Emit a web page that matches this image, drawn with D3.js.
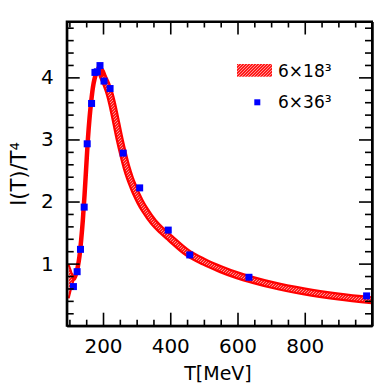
<!DOCTYPE html>
<html>
<head>
<meta charset="utf-8">
<script src="https://cdn.jsdelivr.net/npm/d3@7"></script>
<style>
  html, body { margin: 0; padding: 0; background: #fff; }
  svg { display: block; }
  text { font-family: "DejaVu Sans", sans-serif; fill: #000; }
</style>
</head>
<body>
<svg id="chart" width="392" height="392"></svg>
<script>
// ---- data ----
// 6x18^3 band: start segment (two crossing edges), then band centre line
const edgeT  = [98, 106, 114];
const edgeHi = [0.98, 0.86, 0.76];
const edgeLo = [0.44, 0.62, 0.76];

const bandT   = [114, 120, 125, 130, 135, 140, 145, 150, 155, 160, 165, 170, 175, 180, 185, 190,
                 195, 200, 210, 220, 230, 240, 250, 260, 270, 280, 290, 300, 310, 325, 350, 375,
                 400, 450, 500, 550, 600, 650, 700, 800, 900, 1000];
const bandMid = [0.76, 0.84, 0.95, 1.12, 1.38, 1.70, 2.10, 2.55, 3.00, 3.35, 3.62, 3.84, 3.98, 4.07, 4.11, 4.12,
                 4.08, 4.01, 3.89, 3.73, 3.51, 3.25, 2.99, 2.76, 2.55, 2.38, 2.24, 2.11, 2.00, 1.86, 1.67, 1.53,
                 1.41, 1.18, 1.03, 0.91, 0.81, 0.73, 0.66, 0.55, 0.47, 0.41];
const peakT = 190;

// 6x36^3 points
const ptsT = [112, 123, 133, 144, 153, 166, 176, 183, 191, 203, 221, 260, 309, 394, 458, 634, 984];
const ptsV = [0.63, 0.87, 1.23, 1.91, 2.93, 3.58, 4.08, 4.09, 4.19, 3.94, 3.82, 2.78, 2.22, 1.54, 1.14, 0.78, 0.48];

const xMajor = [200, 400, 600, 800];
const xMinor = [100, 150, 250, 300, 350, 450, 500, 550, 650, 700, 750, 850, 900, 950];
const yMajor = [1, 2, 3, 4];
const yMinor = [0.2, 0.4, 0.6, 0.8, 1.2, 1.4, 1.6, 1.8, 2.2, 2.4, 2.6, 2.8, 3.2, 3.4, 3.6, 3.8, 4.2, 4.4, 4.6, 4.8];

const legendLabels = ["6×18³", "6×36³"];
const xTitle = "T[MeV]";
const yTitle = "I(T)/T⁴";

// ---- layout ----
const W = 392, H = 392;
const m = { left: 66.7, right: 20, top: 21.5, bottom: 66.3 };
const svg = d3.select("#chart");

const x = d3.scaleLinear().domain([92, 1000]).range([m.left, W - m.right]);
const y = d3.scaleLinear().domain([0, 4.9]).range([H - m.bottom, m.top]);

// hatch pattern
const defs = svg.append("defs");
const pat = defs.append("pattern")
  .attr("id", "hatch").attr("patternUnits", "userSpaceOnUse")
  .attr("width", 3).attr("height", 3);
pat.append("rect").attr("width", 3).attr("height", 3).attr("fill", "#ff1a1a");
pat.append("path").attr("d", "M-1,1 L1,-1 M0,3 L3,0 M2,4 L4,2")
  .attr("stroke", "#ffc8c8").attr("stroke-width", 0.7);

const plot = svg.append("g");

// clip
defs.append("clipPath").attr("id", "clip").append("rect")
  .attr("x", m.left).attr("y", m.top)
  .attr("width", W - m.left - m.right).attr("height", H - m.top - m.bottom);
const pg = plot.append("g").attr("clip-path", "url(#clip)");

// start segment (crossing edges with hatch between)
const edgeData = edgeT.map((t, i) => ({ t, hi: edgeHi[i], lo: edgeLo[i] }));
pg.append("path").datum(edgeData)
  .attr("d", d3.area().x(d => x(d.t)).y0(d => y(d.lo)).y1(d => y(d.hi)))
  .attr("fill", "url(#hatch)");
["hi", "lo"].forEach(k => {
  pg.append("path").datum(edgeData)
    .attr("d", d3.line().x(d => x(d.t)).y(d => y(d[k])))
    .attr("fill", "none").attr("stroke", "#ff0000").attr("stroke-width", 2);
});

const band = bandT.map((t, i) => ({ t, v: bandMid[i] }));
const line = d3.line().x(d => x(d.t)).y(d => y(d.v)).curve(d3.curveMonotoneX);
const rising = band.filter(d => d.t <= peakT);
const falling = band.filter(d => d.t >= peakT - 5);

pg.append("path").datum(rising).attr("d", line)
  .attr("fill", "none").attr("stroke", "#ff0000").attr("stroke-width", 4.5)
  .attr("stroke-linejoin", "round").attr("stroke-linecap", "round");
pg.append("path").datum(falling).attr("d", line)
  .attr("fill", "none").attr("stroke", "#ff0000").attr("stroke-width", 8)
  .attr("stroke-linejoin", "round").attr("stroke-linecap", "butt");
pg.append("path").datum(falling.filter(d => d.t >= 200)).attr("d", line)
  .attr("fill", "none").attr("stroke", "url(#hatch)").attr("stroke-width", 3.6);

// points
const sq = 7;
pg.selectAll("rect.pt").data(ptsT.map((t, i) => ({ t, v: ptsV[i] })))
  .enter().append("rect").attr("class", "pt")
  .attr("x", d => x(d.t) - sq / 2).attr("y", d => y(d.v) - sq / 2)
  .attr("width", sq).attr("height", sq).attr("fill", "#0000ff");

// axes
function styleAxis(g) {
  g.select(".domain").attr("stroke", "#000").attr("stroke-width", 2);
  g.selectAll(".tick line").attr("stroke", "#000").attr("stroke-width", 1.6);
  g.selectAll("text").attr("font-size", 20).attr("font-family", "DejaVu Sans, sans-serif");
}
const majL = 13, minL = 6;
const bottomY = H - m.bottom, topY = m.top, leftX = m.left, rightX = W - m.right;

svg.append("g").attr("transform", `translate(0,${bottomY})`)
  .call(d3.axisBottom(x).tickValues(xMinor).tickSize(-minL).tickSizeOuter(0).tickFormat(""))
  .call(styleAxis);
svg.append("g").attr("transform", `translate(0,${bottomY})`)
  .call(d3.axisBottom(x).tickValues(xMajor).tickSize(-majL).tickSizeOuter(0).tickPadding(13).tickFormat(d3.format("d")))
  .call(styleAxis);
svg.append("g").attr("transform", `translate(0,${topY})`)
  .call(d3.axisTop(x).tickValues(xMinor).tickSize(-minL).tickSizeOuter(0).tickFormat(""))
  .call(styleAxis);
svg.append("g").attr("transform", `translate(0,${topY})`)
  .call(d3.axisTop(x).tickValues(xMajor).tickSize(-majL).tickSizeOuter(0).tickFormat(""))
  .call(styleAxis);

svg.append("g").attr("transform", `translate(${leftX},0)`)
  .call(d3.axisLeft(y).tickValues(yMinor).tickSize(-7).tickSizeOuter(0).tickFormat(""))
  .call(styleAxis);
svg.append("g").attr("transform", `translate(${leftX},0)`)
  .call(d3.axisLeft(y).tickValues(yMajor).tickSize(-majL).tickSizeOuter(0).tickPadding(13).tickFormat(d3.format("d")))
  .call(styleAxis);
svg.append("g").attr("transform", `translate(${rightX},0)`)
  .call(d3.axisRight(y).tickValues(yMinor).tickSize(-7).tickSizeOuter(0).tickFormat(""))
  .call(styleAxis);
svg.append("g").attr("transform", `translate(${rightX},0)`)
  .call(d3.axisRight(y).tickValues(yMajor).tickSize(-majL).tickSizeOuter(0).tickFormat(""))
  .call(styleAxis);

// frame
svg.append("rect").attr("x", leftX).attr("y", topY)
  .attr("width", rightX - leftX).attr("height", bottomY - topY)
  .attr("fill", "none").attr("stroke", "#000").attr("stroke-width", 2);

// titles
svg.append("text").attr("x", 218).attr("y", 380).attr("text-anchor", "middle")
  .attr("font-size", 19).text(xTitle);
svg.append("text").attr("transform", "translate(26,174) rotate(-90)")
  .attr("text-anchor", "middle").attr("font-size", 21).text(yTitle);

// legend
const lg = svg.append("g");
lg.append("rect").attr("x", 237).attr("y", 64).attr("width", 35).attr("height", 12.7)
  .attr("fill", "url(#hatch)");
lg.append("text").attr("x", 278).attr("y", 77).attr("font-size", 17).text(legendLabels[0]);
lg.append("rect").attr("x", 257.3 - 3).attr("y", 102.3 - 3).attr("width", 6).attr("height", 6)
  .attr("fill", "#0000ff");
lg.append("text").attr("x", 278).attr("y", 108.3).attr("font-size", 17).text(legendLabels[1]);
</script>
</body>
</html>
